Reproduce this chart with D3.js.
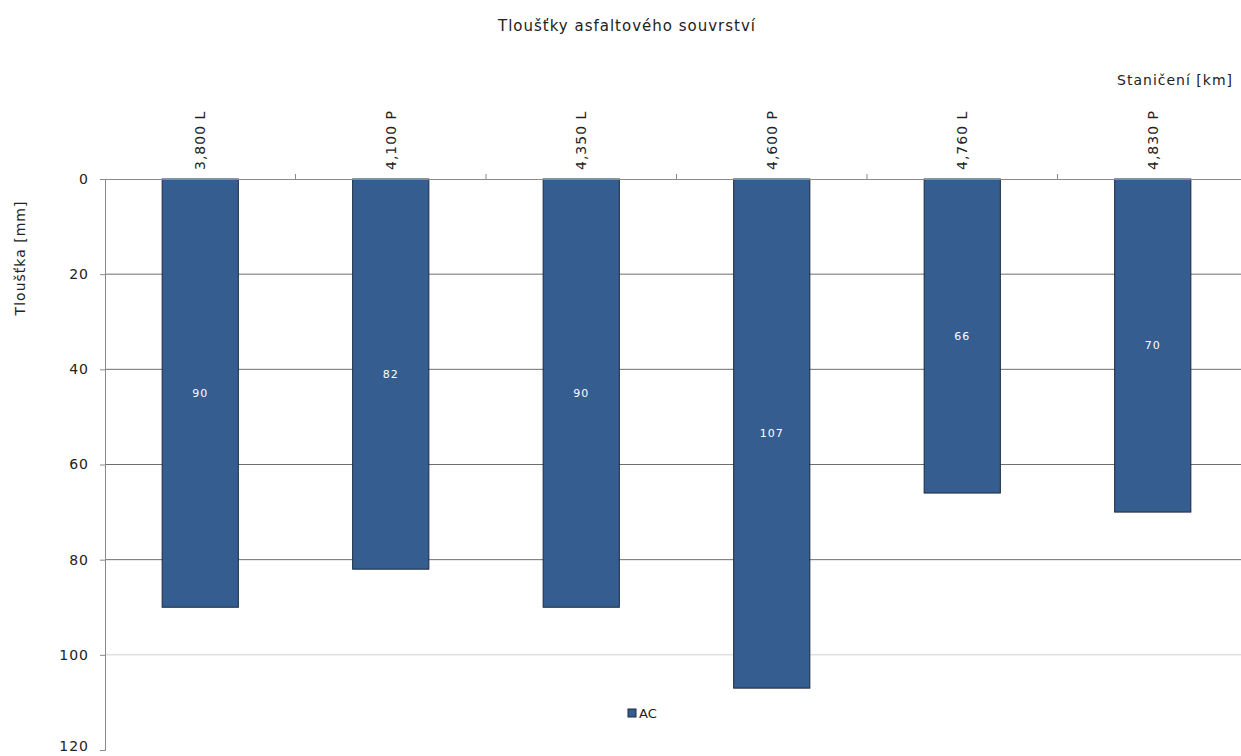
<!DOCTYPE html>
<html>
<head>
<meta charset="utf-8">
<script src="https://cdn.jsdelivr.net/npm/d3@7"></script>
<style>
  body { margin: 0; background: #fff; }
  svg text { font-family: "DejaVu Sans", Verdana, sans-serif; fill: #222; }
</style>
</head>
<body>
<div id="chart"></div>
<script>
// data
const stations = ["3,800 L", "4,100 P", "4,350 L", "4,600 P", "4,760 L", "4,830 P"];
const thickness = [90, 82, 90, 107, 66, 70];
const yTicks = [0, 20, 40, 60, 80, 100, 120];
const seriesName = "AC";

const W = 1241, H = 756;
const margin = { top: 179, right: -7, bottom: 6, left: 105 },
      width = W - margin.left - margin.right,
      height = H - margin.top - margin.bottom;

const svg = d3.select("#chart")
    .append("svg")
    .attr("width", W)
    .attr("height", H);

const g = svg.append("g")
    .attr("transform", `translate(${margin.left},${margin.top})`);

// scales
const x = d3.scaleBand()
    .domain(stations)
    .range([0, width])
    .paddingInner(0.6)
    .paddingOuter(0.3);

const y = d3.scaleLinear()
    .domain([0, 120])
    .range([0, height]);

// gridlines
g.selectAll(".grid")
    .data(yTicks.filter(d => d > 0 && d < 120))
    .enter()
    .append("line")
    .attr("x1", 0)
    .attr("x2", width)
    .attr("y1", d => y(d))
    .attr("y2", d => y(d))
    .attr("stroke", d => d === 100 ? "#d0d0d0" : "#6e6e6e")
    .attr("stroke-width", 1);

// bars
g.selectAll(".bar")
    .data(thickness)
    .enter()
    .append("rect")
    .attr("x", (d, i) => x(stations[i]))
    .attr("y", 0)
    .attr("width", x.bandwidth())
    .attr("height", d => y(d))
    .attr("fill", "#355d8f")
    .attr("stroke", "#1b2a40")
    .attr("stroke-width", 1);

// value labels
g.selectAll(".val")
    .data(thickness)
    .enter()
    .append("text")
    .attr("x", (d, i) => x(stations[i]) + x.bandwidth() / 2)
    .attr("y", d => y(d / 2))
    .attr("dy", "0.35em")
    .attr("text-anchor", "middle")
    .attr("font-size", "11px")
    .attr("letter-spacing", "1px")
    .style("fill", "#fff")
    .text(d => d);

// top axis (categories)
const stepX = x.step();
const xAxis = g.append("g")
    .call(d3.axisTop(x).tickSize(0).tickPadding(9));
xAxis.select(".domain").attr("stroke", "#8a8a8a");
xAxis.selectAll(".tick text")
    .attr("font-size", "14px")
    .attr("letter-spacing", "1px")
    .attr("transform", "rotate(-90)")
    .attr("text-anchor", "start")
    .attr("dy", "0.35em")
    .attr("x", 9)
    .attr("y", 0);
// category separators
g.selectAll(".sep")
    .data(stations.slice(1))
    .enter()
    .append("line")
    .attr("x1", d => x(d) - (stepX - x.bandwidth()) / 2)
    .attr("x2", d => x(d) - (stepX - x.bandwidth()) / 2)
    .attr("y1", -5)
    .attr("y2", 0)
    .attr("stroke", "#8a8a8a");

// left axis
const yAxis = g.append("g")
    .call(d3.axisLeft(y).tickValues(yTicks).tickSize(5).tickPadding(11));
yAxis.select(".domain").attr("stroke", "#8a8a8a");
yAxis.selectAll(".tick line").attr("stroke", "#8a8a8a");
yAxis.selectAll(".tick text")
    .attr("font-size", "14px")
    .attr("letter-spacing", "1px")
    .attr("dy", d => d === 120 ? "0.05em" : "0.32em");

// titles
svg.append("text")
    .attr("x", 627)
    .attr("y", 31)
    .attr("text-anchor", "middle")
    .attr("font-size", "15px")
    .attr("letter-spacing", "1px")
    .text("Tloušťky asfaltového souvrství");

svg.append("text")
    .attr("x", 1233)
    .attr("y", 85)
    .attr("text-anchor", "end")
    .attr("font-size", "14px")
    .attr("letter-spacing", "1px")
    .text("Staničení [km]");

svg.append("text")
    .attr("transform", "rotate(-90)")
    .attr("x", -258)
    .attr("y", 25)
    .attr("text-anchor", "middle")
    .attr("font-size", "14px")
    .attr("letter-spacing", "1px")
    .text("Tloušťka [mm]");

// legend
const legend = svg.append("g")
    .attr("transform", "translate(628, 709)");
legend.append("rect")
    .attr("width", 8)
    .attr("height", 8)
    .attr("fill", "#355d8f")
    .attr("stroke", "#1b2a40");
legend.append("text")
    .attr("x", 11)
    .attr("y", 9)
    .attr("font-size", "13px")
    .text(seriesName);
</script>
</body>
</html>
